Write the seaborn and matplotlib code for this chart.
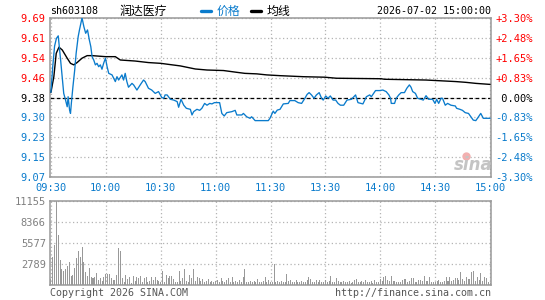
import numpy as np
import pandas as pd
import matplotlib
matplotlib.use("Agg")
import matplotlib.pyplot as plt
from matplotlib.lines import Line2D
import seaborn as sns

# ---------------- data ----------------
stock_code = "sh603108"
stock_name = "润达医疗"
timestamp = "2026-07-02 15:00:00"
pre_close = 9.38

price_minutes = [0, 1, 2, 3, 4, 5.3, 7, 8, 8.9, 9.4, 10.2, 10.7, 11.2, 12, 13, 13.8, 14.9, 15.6, 17,
                 18, 19, 20, 21, 21.8, 22.5, 23.4, 24.3, 25.2, 26.1, 27, 27.9, 28.8, 29.8, 30.7, 31.6,
                 33.4, 35.2, 36.1, 37, 38.8, 39.7, 40.6, 41.5, 42.4, 44.3, 45.2, 47, 48.8, 50.6, 51.5,
                 53.3, 55.1, 57, 58.8, 60.6, 61.7, 62.4, 63.5, 65.3, 67.1, 69, 69.8, 71.1, 72.6, 74,
                 76.2, 77.1, 78, 79.8, 81.3, 82.5, 84, 85.3, 86.8, 88, 89.3, 92.2, 93.4, 94.7, 96.1,
                 98.9, 100.7, 101.6, 104.3, 105.2, 107, 108.8, 109.7, 111.6, 118.8, 119.7, 121.5, 122.4,
                 123.7, 125.2, 127, 129.7, 130.6, 133.3, 135.1, 137, 138.8, 140, 141.1, 142.4, 143.8,
                 145.1, 146.6, 147.9, 148.8, 150.2, 151.4, 152.7, 154.2, 155.6, 156.9, 158.2, 160,
                 161.8, 164.2, 166.5, 167.8, 170.5, 172.4, 174.2, 175.1, 177.4, 179.6, 181.4, 183.2,
                 184.7, 185.6, 186, 187.8, 188.7, 190.1, 191.4, 193.2, 194.5, 195.9, 196.8, 197.7,
                 199.2, 200.4, 202.3, 203.5, 205, 206.4, 208.6, 209.9, 210.8, 211.9, 213.2, 214,
                 215.5, 216.8, 218.6, 221, 221.7, 223.5, 224.9, 226.4, 228.2, 229.5, 230.8, 232.2,
                 233.1, 234.9, 236.3, 240]
price_values = [9.400, 9.500, 9.580, 9.610, 9.620, 9.526, 9.396, 9.370, 9.344, 9.383, 9.331, 9.318, 9.360,
                9.420, 9.487, 9.553, 9.617, 9.643, 9.690, 9.656, 9.630, 9.643, 9.604, 9.578, 9.539,
                9.526, 9.507, 9.513, 9.500, 9.507, 9.490, 9.513, 9.533, 9.500, 9.474, 9.468, 9.442,
                9.461, 9.448, 9.468, 9.448, 9.474, 9.442, 9.420, 9.435, 9.429, 9.409, 9.429, 9.448,
                9.442, 9.416, 9.409, 9.396, 9.403, 9.380, 9.377, 9.390, 9.390, 9.373, 9.370, 9.364,
                9.342, 9.373, 9.350, 9.338, 9.334, 9.312, 9.325, 9.334, 9.330, 9.338, 9.357, 9.350,
                9.357, 9.355, 9.360, 9.360, 9.318, 9.308, 9.321, 9.325, 9.330, 9.312, 9.312, 9.318,
                9.305, 9.299, 9.305, 9.290, 9.290, 9.299, 9.327, 9.318, 9.331, 9.334, 9.355, 9.357,
                9.368, 9.368, 9.360, 9.357, 9.377, 9.392, 9.399, 9.390, 9.377, 9.390, 9.399, 9.377,
                9.370, 9.386, 9.377, 9.386, 9.370, 9.370, 9.357, 9.350, 9.350, 9.370, 9.373, 9.390,
                9.360, 9.355, 9.383, 9.390, 9.383, 9.407, 9.407, 9.409, 9.403, 9.390, 9.377, 9.357,
                9.357, 9.377, 9.390, 9.399, 9.399, 9.416, 9.429, 9.420, 9.403, 9.396, 9.377, 9.373,
                9.370, 9.387, 9.373, 9.373, 9.357, 9.373, 9.357, 9.377, 9.377, 9.350, 9.357, 9.350,
                9.347, 9.338, 9.334, 9.330, 9.321, 9.318, 9.305, 9.292, 9.290, 9.299, 9.318, 9.299,
                9.299]

avg_minutes = [0, 1.6, 2.9, 4.4, 6.2, 8.9, 10.7, 12.5, 14.3, 17, 19.8, 22.5, 29.8, 35.2, 37.9, 46,
               53.3, 60, 65.3, 70.7, 78.9, 85.3, 94.3, 101.6, 106, 112.5, 117.9, 125.2, 137.9,
               149.7, 156, 180.5, 182.3, 205, 221.3, 226.8, 232.2, 240]
avg_values = [9.400, 9.461, 9.552, 9.576, 9.565, 9.533, 9.513, 9.507, 9.516, 9.533, 9.543, 9.543,
              9.539, 9.539, 9.526, 9.522, 9.516, 9.513, 9.508, 9.503, 9.491, 9.487, 9.485, 9.478,
              9.474, 9.472, 9.468, 9.465, 9.461, 9.459, 9.455, 9.453, 9.451, 9.448, 9.442, 9.439,
              9.435, 9.431]

volumes = [
    800, 3770, 5310, 11155, 6640, 3320, 2130, 1860, 2130, 2570,
    3010, 1240, 1330, 2300, 3630, 4520, 3720, 5090, 3100, 1770,
    1240, 2300, 1060, 975, 1060, 1590, 665, 975, 530, 1060,
    1500, 1500, 1460, 975, 665, 665, 1330, 4960, 4520, 885,
    355, 1330, 800, 1060, 310, 1240, 530, 1060, 975, 1200,
    440, 975, 1060, 355, 530, 1060, 710, 1060, 620, 530,
    355, 1860, 355, 1330, 975, 1150, 1240, 800, 355, 355,
    1860, 530, 975, 2130, 530, 355, 1330, 975, 2130, 530,
    1060, 885, 530, 800, 440, 530, 800, 355, 530, 440,
    530, 665, 440, 885, 530, 355, 620, 975, 440, 1060,
    355, 530, 440, 620, 355, 1060, 2130, 440, 355, 530,
    440, 530, 355, 800, 440, 355, 530, 1060, 440, 665,
    355, 440, 2750, 355, 530, 440, 530, 355, 440, 1460,
    530, 620, 440, 355, 620, 440, 355, 530, 440, 355,
    620, 1060, 800, 440, 355, 620, 440, 620, 355, 440,
    620, 355, 530, 1240, 440, 355, 975, 530, 355, 440,
    530, 440, 355, 530, 300, 445, 620, 800, 400, 350,
    530, 440, 620, 355, 445, 530, 300, 620, 440, 355,
    800, 500, 1030, 1200, 700, 500, 1150, 500, 500, 400,
    400, 450, 600, 800, 750, 450, 500, 940, 940, 400,
    350, 600, 600, 500, 1200, 500, 500, 1030, 450, 450,
    350, 500, 670, 450, 400, 500, 1030, 500, 1115, 500,
    600, 980, 940, 600, 1785, 750, 500, 1030, 800, 850,
    1785, 1870, 500, 1030, 670, 1650, 500, 1030, 980, 350,
    300,
]
vol_minutes = list(range(len(volumes)))

price_ticks = [9.0705, 9.1479, 9.2253, 9.3026, 9.38, 9.4574, 9.5348, 9.6121, 9.6895]
price_labels = ["9.07", "9.15", "9.23", "9.30", "9.38", "9.46", "9.54", "9.61", "9.69"]
pct_labels = ["-3.30%", "-2.48%", "-1.65%", "-0.83%", " 0.00%", "+0.83%", "+1.65%", "+2.48%", "+3.30%"]
time_ticks = [0, 30, 60, 90, 120, 150, 180, 210, 240]
time_labels = ["09:30", "10:00", "10:30", "11:00", "11:30", "13:30", "14:00", "14:30", "15:00"]
vol_ticks = [0, 2789, 5577, 8366, 11155]
vol_labels = ["", "2789", "5577", "8366", "11155"]

# ---------------- style ----------------
sns.set_theme(style="white")
plt.rcParams["font.family"] = ["DejaVu Sans Mono", "Noto Sans CJK SC"]

BLUE = "#0a7bcc"
RED = "#ff0000"
GRAY = "#999999"
GRID = "#b4b4b4"
FS = 7.2
W, H = 545, 300

fig = plt.figure(figsize=(5.45, 3.0), dpi=100)
fig.patch.set_facecolor("white")
axp = fig.add_axes([50 / W, 1 - 177 / H, 441 / W, 159 / H])
axv = fig.add_axes([50 / W, 1 - 285 / H, 441 / W, 84 / H])

price_df = pd.DataFrame({"minute": price_minutes, "price": price_values})
avg_df = pd.DataFrame({"minute": avg_minutes, "avg": avg_values})
vol_df = pd.DataFrame({"minute": vol_minutes, "volume": volumes})

for ax in (axp, axv):
    ax.set_facecolor("white")
    for s in ax.spines.values():
        s.set_color(GRAY)
        s.set_linewidth(1.1)
    ax.grid(True, linestyle=(0, (1, 2)), color=GRID, linewidth=0.9)
    ax.set_axisbelow(True)
    ax.tick_params(length=0)

# price panel
sns.lineplot(data=avg_df, x="minute", y="avg", ax=axp, color="black", linewidth=1.0,
             estimator=None, sort=False, zorder=3)
sns.lineplot(data=price_df, x="minute", y="price", ax=axp, color=BLUE, linewidth=0.95,
             estimator=None, sort=False, zorder=4)
axp.axhline(pre_close, color="black", linestyle=(0, (3, 2)), linewidth=0.9, zorder=2)

axp.set_xlim(-0.5, 240.5)
axp.set_ylim(price_ticks[0], price_ticks[-1])
axp.set_yticks(price_ticks)
axp.set_yticklabels(price_labels, fontsize=FS + 0.3)
axp.set_xticks(time_ticks)
axp.set_xticklabels(time_labels, fontsize=FS + 0.3, color=BLUE)
axp.tick_params(axis="y", pad=3)
axp.tick_params(axis="x", pad=4)
axp.set_xlabel("")
axp.set_ylabel("")
for lab, v in zip(axp.get_yticklabels(), price_ticks):
    lab.set_color(RED if v > pre_close + 1e-6 else ("black" if abs(v - pre_close) < 1e-6 else BLUE))

axr = axp.twinx()
axr.set_ylim(price_ticks[0], price_ticks[-1])
axr.set_yticks(price_ticks)
axr.set_yticklabels(pct_labels, fontsize=FS + 0.3)
axr.tick_params(length=0, pad=3)
axr.grid(False)
for s in axr.spines.values():
    s.set_visible(False)
for lab, v in zip(axr.get_yticklabels(), price_ticks):
    lab.set_color(RED if v > pre_close + 1e-6 else ("black" if abs(v - pre_close) < 1e-6 else BLUE))

# volume panel
sns.barplot(data=vol_df, x="minute", y="volume", ax=axv, native_scale=True, color=GRAY,
            saturation=1, width=0.55, linewidth=0, zorder=3)
axv.set_xlim(-0.5, 240.5)
axv.set_ylim(0, vol_ticks[-1])
axv.set_yticks(vol_ticks)
axv.set_yticklabels(vol_labels, fontsize=FS + 0.3, color="#808080")
axv.set_xticks(time_ticks)
axv.set_xticklabels([])
axv.set_xlabel("")
axv.set_ylabel("")
axv.tick_params(axis="y", pad=3)

# header
fig.text(50 / W, 1 - 11 / H, stock_code, fontsize=FS, va="center", ha="left", color="black")
fig.text(143 / W, 1 - 11 / H, stock_name, fontsize=8.6, va="center", ha="center",
         family=["Noto Sans CJK SC", "DejaVu Sans"], color="black")
fig.add_artist(Line2D([201 / W, 211 / W], [1 - 11 / H, 1 - 11 / H], color=BLUE, linewidth=2.4,
                      transform=fig.transFigure))
fig.text(217 / W, 1 - 11 / H, "价格", fontsize=8.6, va="center", ha="left", color=BLUE,
         family=["Noto Sans CJK SC", "DejaVu Sans"])
fig.add_artist(Line2D([251 / W, 261 / W], [1 - 11 / H, 1 - 11 / H], color="black", linewidth=2.4,
                      transform=fig.transFigure))
fig.text(267 / W, 1 - 11 / H, "均线", fontsize=8.6, va="center", ha="left", color="black",
         family=["Noto Sans CJK SC", "DejaVu Sans"])
fig.text(491 / W, 1 - 11 / H, timestamp, fontsize=FS, va="center", ha="right", color="black")

# watermark
fig.add_artist(Line2D([466 / W], [1 - 156 / H], marker="o", markersize=6, linestyle="none",
                      color="#f2b0b0", markeredgewidth=0, transform=fig.transFigure))
fig.text(473 / W, 1 - 165 / H, "sina", fontsize=12, style="italic", weight="bold",
         color="#c4c4c4", ha="center", va="center", family="DejaVu Sans")

# footer
fig.text(50 / W, 1 - 293 / H, "Copyright 2026 SINA.COM", fontsize=FS, va="center", ha="left",
         color="#555555")
fig.text(491 / W, 1 - 293 / H, "http://finance.sina.com.cn", fontsize=FS, va="center", ha="right",
         color="#555555")

fig.savefig("out.png", dpi=100, facecolor="white")
